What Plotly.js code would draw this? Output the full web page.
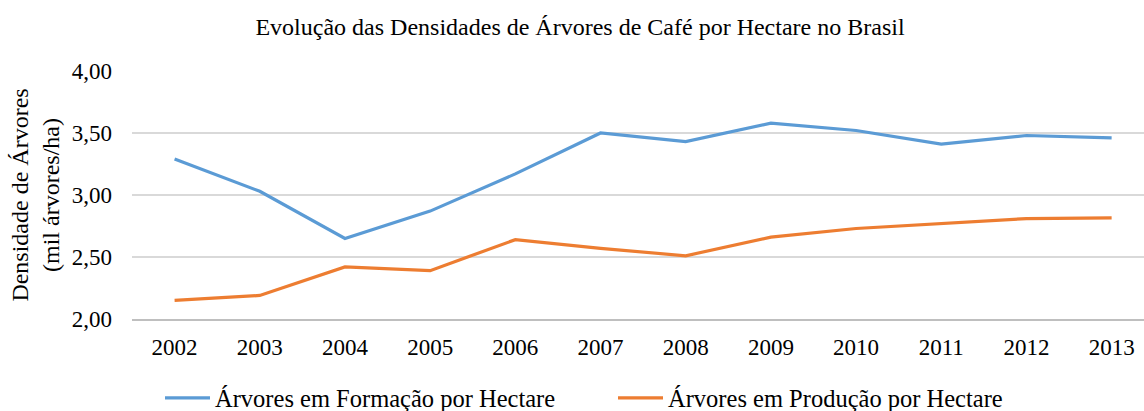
<!DOCTYPE html>
<html>
<head>
<meta charset="utf-8">
<script src="https://cdn.plot.ly/plotly-3.0.1.min.js"></script>
<style>html,body{margin:0;padding:0;background:#fff;overflow:hidden}</style>
</head>
<body>
<div id="chart" style="width:1144px;height:411px"></div>
<script>
const anos = ["2002","2003","2004","2005","2006","2007","2008","2009","2010","2011","2012","2013"];
const formacao = [3.29, 3.03, 2.65, 2.87, 3.17, 3.50, 3.43, 3.58, 3.52, 3.41, 3.48, 3.46];
const producao = [2.15, 2.19, 2.42, 2.39, 2.64, 2.57, 2.51, 2.66, 2.73, 2.77, 2.81, 2.815];
const nomeFormacao = "Árvores em Formação por Hectare";
const nomeProducao = "Árvores em Produção por Hectare";
const titulo = "Evolução das Densidades de Árvores de Café por Hectare no Brasil";
const tituloY = "Densidade de Árvores<br>(mil árvores/ha)";

const fonte = "'Liberation Serif', 'Times New Roman', serif";
const f = (s) => ({family: fonte, size: s, color: "#000"});

const traces = [
  {x: anos, y: formacao, name: nomeFormacao, type: "scatter", mode: "lines",
   line: {color: "#5b9bd5", width: 3.2}},
  {x: anos, y: producao, name: nomeProducao, type: "scatter", mode: "lines",
   line: {color: "#ed7d31", width: 3.2}}
];

const layout = {
  width: 1144, height: 411,
  margin: {l: 132, r: 0, t: 71, b: 92},
  paper_bgcolor: "#fff", plot_bgcolor: "#fff",
  separators: ",.",
  font: f(23),
  title: {text: titulo, font: f(24),
          x: 0.507, xref: "container", xanchor: "center",
          y: 1 - 27/411, yref: "container", yanchor: "middle"},
  xaxis: {type: "category", range: [-0.5, 11.38], showgrid: false,
          showline: true, linecolor: "#bfbfbf", linewidth: 2,
          ticks: "", ticklabelstandoff: 6, tickfont: f(23)},
  yaxis: {range: [2, 4], dtick: 0.5, tickformat: ".2f",
          showgrid: true, gridcolor: "#d9d9d9", gridwidth: 2,
          zeroline: false, showline: false, ticks: "",
          ticklabelstandoff: 19, tickfont: f(23),
          title: {text: tituloY, font: f(24), standoff: 5}},
  showlegend: true,
  legend: {orientation: "h", xref: "container", yref: "container",
           x: 160/1144, xanchor: "left", y: 1 - 398/411, yanchor: "middle",
           font: f(24.5), itemwidth: 45, entrywidth: 393, entrywidthmode: "pixels"}
};

Plotly.newPlot("chart", traces, layout, {displayModeBar: false, staticPlot: true});
</script>
</body>
</html>
